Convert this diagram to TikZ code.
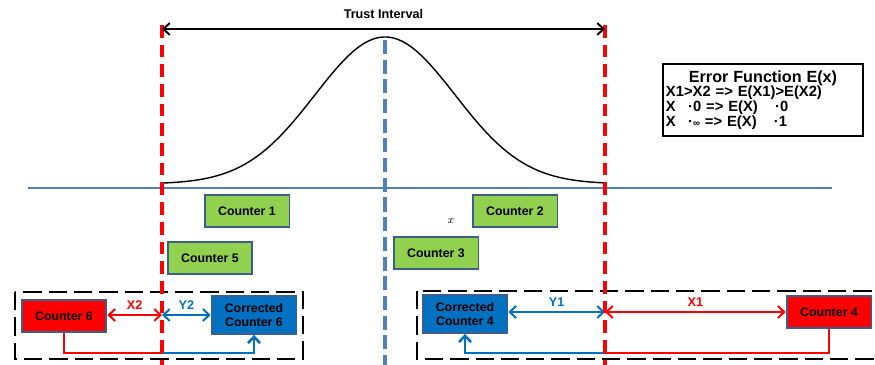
\documentclass[tikz,border=0pt]{standalone}
\usepackage{fontspec}
\setmainfont{Liberation Sans}
\usetikzlibrary{arrows.meta}
\definecolor{cgreen}{HTML}{92D050}
\definecolor{cblue}{HTML}{0070C0}
\definecolor{cedge}{HTML}{3A5F8B}
\definecolor{cline}{HTML}{4F81BD}

\begin{document}
\begin{tikzpicture}[x=0.025cm,y=-0.025cm,>={Straight Barb[length=4.5pt,width=8.5pt]},
        counter/.style={draw=cedge,line width=1.3pt,fill=cgreen,minimum width=2.12cm,minimum height=0.8cm,inner sep=1pt,font=\bfseries\fontsize{8.8}{10.5}\selectfont},
        redbox/.style={counter,fill=red},
        bluebox/.style={counter,fill=cblue,align=center,minimum height=0.95cm},
        limit/.style={red,line width=2.2pt,dash pattern=on 9pt off 5pt},
        centre/.style={cline,line width=2.2pt,dash pattern=on 10pt off 4pt},
        group/.style={black,line width=2pt,dash pattern=on 13pt off 5pt},
        gap/.style={<->,line width=1.4pt,font=\bfseries\fontsize{9}{10}\selectfont}]
        \useasboundingbox (0,0) rectangle (875,365);
        \clip (0,0) rectangle (875,365);
        % Limits
        \coordinate (lt) at (162,25);
        \coordinate (lb) at (162,365);
        \coordinate (rt) at (605,25);
        \coordinate (rb) at (605,365);
        \coordinate (ct) at (385,40);
        \coordinate (cb) at (385,365);
        \coordinate (h0) at (28,188);
        \coordinate (h1) at (832,188);
        % Curve
        \draw[cline,line width=0.8pt] (h0) -- (h1);
        \draw[line width=1pt] plot[domain=162:605,samples=80,smooth] (\x,{184-147*exp(-0.5*((\x-385)/70)^2)});
        % Counters
        \node[counter] (c1) at (247,211) {Counter 1};
        \node[counter] (c2) at (515,211) {Counter 2};
        \node[counter] (c5) at (210,258) {Counter 5};
        \node[counter] (c3) at (436,253) {Counter 3};
        \node (xv) at (451,221) {\fontsize{8}{8}\selectfont$x$};
        % Error function
        \node[draw,line width=1.3pt,text width=4.85cm,minimum height=1.8cm,align=left,inner sep=2pt,font=\bfseries\fontsize{10.5}{10.5}\selectfont] (err) at (763,100)
            {\makebox[4.85cm]{\fontsize{11.5}{12}\selectfont Error Function E(x)}\\
             X1>X2 => E(X1)>E(X2)\\
             X \ \,·0 => E(X) \ \ \,·0\\
             X \ \,·{\fontsize{7}{7}\selectfont ∞} => E(X) \ \ \,·1};
        % Groups
        \draw[group] (15,292) rectangle (303,359);
        \draw[group] (417,291) rectangle (880,359);
        \node[redbox] (c6) at (64,316) {Counter 6};
        \node[bluebox] (cc6) at (254,315) {Corrected\\Counter 6};
        \node[bluebox] (cc4) at (465,314) {Corrected\\Counter 4};
        \node[redbox] (c4) at (829,312) {Counter 4};
        \coordinate (p2) at (162,315);
        \coordinate (p1) at (605,312);
        \coordinate (m6) at (162,353);
        \coordinate (m4) at (605,353);
        % Gaps
        \draw[gap,red] (c6.east |- p2) -- (p2) node[midway,above] {X2};
        \draw[gap,cblue] (p2) -- (cc6.west |- p2) node[midway,above] {Y2};
        \draw[gap,cblue] (cc4.east |- p1) -- (p1) node[midway,above] {Y1};
        \draw[gap,red] (p1) -- (c4.west |- p1) node[midway,above] {X1};
        \draw[red,line width=1.8pt] (c6.south) |- (m6);
        \draw[->,cblue,line width=1.8pt] (m6) -| (cc6.south);
        \draw[red,line width=1.8pt] (c4.south) |- (m4);
        \draw[->,cblue,line width=1.8pt] (m4) -| (cc4.south);
        % Interval
        \draw[limit] (lt) -- (lb);
        \draw[limit] (rt) -- (rb);
        \draw[centre] (ct) -- (cb);
        \draw[gap,black] (162,29) -- (605,29) node[midway,above=3pt] (ti) {\fontsize{9}{10}\selectfont Trust Interval};
    \end{tikzpicture}
\end{document}
